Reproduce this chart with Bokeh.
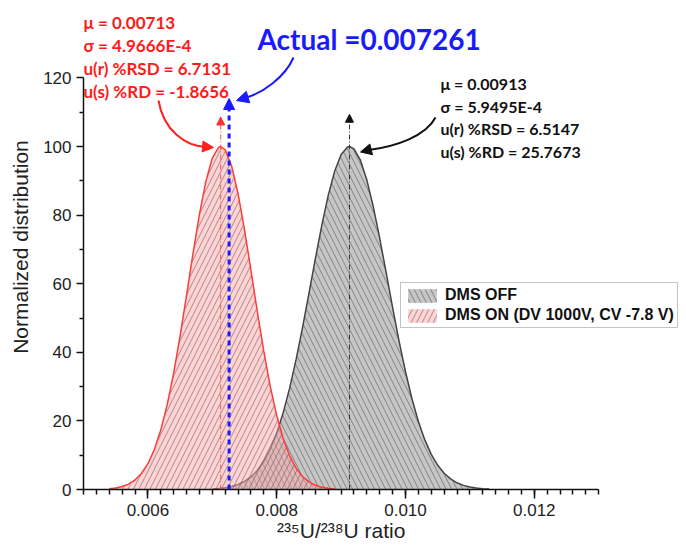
from bokeh.plotting import figure
from bokeh.models import (Range1d, FixedTicker, NumeralTickFormatter, Label, Arrow,
                          NormalHead, Legend, LegendItem)
from bokeh.embed import file_html
from bokeh.resources import INLINE

# ---------------- data ----------------
off_mu = 0.00913
off_sigma = 5.9495e-4
on_mu = 0.00713
on_sigma = 4.9666e-4
actual = 0.007261

on_x = [0.0054, 0.0055, 0.0056, 0.0057, 0.0058, 0.0059, 0.0060, 0.0061, 0.0062, 0.0063,
        0.0064, 0.0065, 0.0066, 0.0067, 0.0068, 0.0069, 0.0070, 0.0071, 0.00713, 0.0072,
        0.0073, 0.0074, 0.0075, 0.0076, 0.0077, 0.0078, 0.0079, 0.0080, 0.0081, 0.0082,
        0.0083, 0.0084, 0.0085, 0.0086, 0.0087, 0.0088, 0.0089]
on_y = [0.23, 0.46, 0.87, 1.58, 2.77, 4.66, 7.52, 11.64, 17.33, 24.74,
        33.96, 44.73, 56.59, 68.74, 80.20, 89.83, 96.63, 99.82, 100.0, 99.01,
        94.31, 86.26, 75.77, 63.91, 51.76, 40.25, 30.06, 21.56, 14.85, 9.82,
        6.24, 3.80, 2.23, 1.25, 0.68, 0.35, 0.17]

off_x = [0.0070, 0.0071, 0.0072, 0.0073, 0.0074, 0.0075, 0.0076, 0.0077, 0.0078, 0.0079,
         0.0080, 0.0081, 0.0082, 0.0083, 0.0084, 0.0085, 0.0086, 0.0087, 0.0088, 0.0089,
         0.0090, 0.0091, 0.00913, 0.0092, 0.0093, 0.0094, 0.0095, 0.0096, 0.0097, 0.0098,
         0.0099, 0.0100, 0.0101, 0.0102, 0.0103, 0.0104, 0.0105, 0.0106, 0.0107, 0.0108,
         0.0109, 0.0110, 0.0111, 0.0112, 0.0113]
off_y = [0.16, 0.30, 0.52, 0.88, 1.46, 2.35, 3.66, 5.57, 8.22, 11.80,
         16.47, 22.34, 29.47, 37.79, 47.11, 57.09, 67.25, 77.01, 85.74, 92.80,
         97.64, 99.87, 100.0, 99.31, 96.00, 90.21, 82.42, 73.20, 63.20, 53.04,
         43.28, 34.33, 26.47, 19.84, 14.46, 10.25, 7.06, 4.73, 3.08, 1.95,
         1.20, 0.72, 0.42, 0.24, 0.13]

x_ticks = [0.006, 0.008, 0.010, 0.012]
x_minor = [round(0.005 + 0.0002 * i, 4) for i in range(41)]
y_ticks = [0, 20, 40, 60, 80, 100, 120]
y_minor = [10, 30, 50, 70, 90, 110]

on_text = ["\u03bc = 0.00713", "\u03c3 = 4.9666E-4", "u(r) %RSD = 6.7131", "u(s) %RD = -1.8656"]
off_text = ["\u03bc = 0.00913", "\u03c3 = 5.9495E-4", "u(r) %RSD = 6.5147", "u(s) %RD = 25.7673"]
actual_text = "Actual =0.007261"
legend_labels = ["DMS OFF", "DMS ON (DV 1000V, CV -7.8 V)"]
x_title = "\u00b2\u00b3\u2075U/\u00b2\u00b3\u2078U ratio"
y_title = "Normalized distribution"

# ---------------- layout helpers ----------------
W, H = 686, 552
ML, MR, MT, MB = 83, 0, 4, 63
FW, FH = W - ML - MR, H - MT - MB
PXU = 64.4               # pixels per 0.001 on x
PYU = FH / 141.4         # pixels per unit on y
X0 = 0.005
X1 = X0 + FW / PXU * 0.001
XB = 0.013               # end of drawn x axis
Y0, Y1 = 0.0, 141.4
Y_AXIS_PX = H - MB       # pixel row of y = 0


def px_x(px):  # reference-pixel x -> data x
    return X0 + (px - ML) / PXU * 0.001


def px_y(py):  # reference-pixel y -> data y
    return (Y_AXIS_PX - py) / PYU


p = figure(width=W, height=H, output_backend="svg", toolbar_location=None,
           x_range=Range1d(X0, X1), y_range=Range1d(Y0, Y1),
           min_border_left=ML, min_border_right=MR, min_border_top=MT, min_border_bottom=MB)
p.xgrid.visible = False
p.ygrid.visible = False
p.outline_line_color = None
p.background_fill_color = "white"

# ---------------- areas ----------------
PINK = "#ff3b3b"
g_area = p.varea(x=off_x, y1=0, y2=off_y, fill_color="#c6c6c6", fill_alpha=1.0,
                 hatch_pattern="left_diagonal_line", hatch_color="#555555",
                 hatch_scale=11, hatch_weight=1, hatch_alpha=0.6)
p.line(off_x, off_y, line_color="#444444", line_width=1.5)

r_area = p.varea(x=on_x, y1=0, y2=on_y, fill_color="#ffa8a8", fill_alpha=0.5,
                 hatch_pattern="right_diagonal_line", hatch_color="#555555",
                 hatch_scale=11, hatch_weight=1, hatch_alpha=0.55)
p.line(on_x, on_y, line_color=PINK, line_width=1.5)

# ---------------- vertical marker arrows ----------------
p.add_layout(Arrow(x_start=on_mu, y_start=0, x_end=on_mu, y_end=108.6,
                   line_color="#ff5050", line_width=1, line_dash="5 2 1 2",
                   end=NormalHead(size=8, fill_color="#ff3030", line_color="#ff3030")))
p.add_layout(Arrow(x_start=off_mu, y_start=0, x_end=off_mu, y_end=109.4,
                   line_color="#333333", line_width=1, line_dash="5 2 1 2",
                   end=NormalHead(size=8, fill_color="#111111", line_color="#111111")))
p.add_layout(Arrow(x_start=actual, y_start=0, x_end=actual, y_end=114.0,
                   line_color="#1a1aff", line_width=3, line_dash="5 4",
                   end=NormalHead(size=11, fill_color="#1a1aff", line_color="#1a1aff")))


# ---------------- curved pointer arrows ----------------
def curved(start, c0, c1, end, tip_from, tip, color, size):
    p.bezier(x0=[px_x(start[0])], y0=[px_y(start[1])], x1=[px_x(end[0])], y1=[px_y(end[1])],
             cx0=[px_x(c0[0])], cy0=[px_y(c0[1])], cx1=[px_x(c1[0])], cy1=[px_y(c1[1])],
             line_color=color, line_width=2)
    p.add_layout(Arrow(x_start=px_x(tip_from[0]), y_start=px_y(tip_from[1]),
                       x_end=px_x(tip[0]), y_end=px_y(tip[1]), line_alpha=0,
                       end=NormalHead(size=size, fill_color=color, line_color=color)))


curved((158, 100), (163, 130), (185, 146), (206, 146.5), (202, 146), (213, 147), "#ff2020", 11)
curved((293, 57), (285, 76), (262, 93), (244, 97.5), (246, 97), (236, 100), "#1a1aff", 12)
curved((435, 117), (425, 136), (395, 146), (368, 149.5), (370, 149), (360, 151.5), "#111111", 11)

# ---------------- text annotations ----------------
for i, t in enumerate(on_text):
    p.add_layout(Label(x=px_x(83), y=px_y(22 + 23 * i), text=t, text_font="Lato",
                       text_font_style="bold", text_font_size="17px", text_color="#ff1a1a",
                       text_baseline="alphabetic"))
for i, t in enumerate(off_text):
    p.add_layout(Label(x=px_x(440), y=px_y(83 + 22.7 * i), text=t, text_font="Lato",
                       text_font_style="bold", text_font_size="16px", text_color="#111111",
                       text_baseline="alphabetic"))
p.add_layout(Label(x=px_x(257), y=px_y(38), text=actual_text, text_font="Lato",
                   text_font_style="bold", text_font_size="28px", text_color="#1a1aff",
                   text_baseline="alphabetic"))

# ---------------- axes ----------------
for ax in (p.xaxis[0], p.yaxis[0]):
    ax.axis_line_width = 1.5
    ax.axis_line_color = "#111111"
    ax.major_tick_line_width = 1.5
    ax.minor_tick_line_width = 1.5
    ax.major_tick_line_color = "#111111"
    ax.minor_tick_line_color = "#111111"
    ax.major_tick_in = 0
    ax.minor_tick_in = 0
    ax.major_label_text_font = "Liberation Sans"
    ax.major_label_text_font_size = "17px"
    ax.major_label_text_color = "#222222"
    ax.axis_label_text_font = "Liberation Sans"
    ax.axis_label_text_font_size = "21px"
    ax.axis_label_text_font_style = "normal"
    ax.axis_label_text_color = "#222222"

xa = p.xaxis[0]
xa.ticker = FixedTicker(ticks=x_ticks, minor_ticks=x_minor)
xa.formatter = NumeralTickFormatter(format="0.000")
xa.bounds = (X0, XB)
xa.major_tick_out = 9
xa.minor_tick_out = 5
xa.major_label_standoff = 5
# trailing no-break spaces shift the centred title left, under the drawn axis span
xa.axis_label = x_title + "\u00a0" * 15
xa.axis_label_standoff = 0

ya = p.yaxis[0]
ya.ticker = FixedTicker(ticks=y_ticks, minor_ticks=y_minor)
ya.bounds = (0, 120)
ya.major_tick_out = 7
ya.minor_tick_out = 4
ya.major_label_standoff = 5
ya.axis_label = y_title
ya.axis_label_standoff = 8

# ---------------- legend ----------------
legend = Legend(items=[LegendItem(label=legend_labels[0], renderers=[g_area]),
                       LegendItem(label=legend_labels[1], renderers=[r_area])],
                location=(317, 161), orientation="vertical",
                label_text_font="Liberation Sans", label_text_font_style="bold",
                label_text_font_size="16px", label_text_color="#111111",
                glyph_width=36, glyph_height=17, label_height=17, label_standoff=5,
                padding=3, spacing=2, margin=0,
                border_line_color="#888888", border_line_width=1.5,
                background_fill_color="white", background_fill_alpha=1.0)
p.add_layout(legend)

open("out.html", "w").write(file_html(p, INLINE))
